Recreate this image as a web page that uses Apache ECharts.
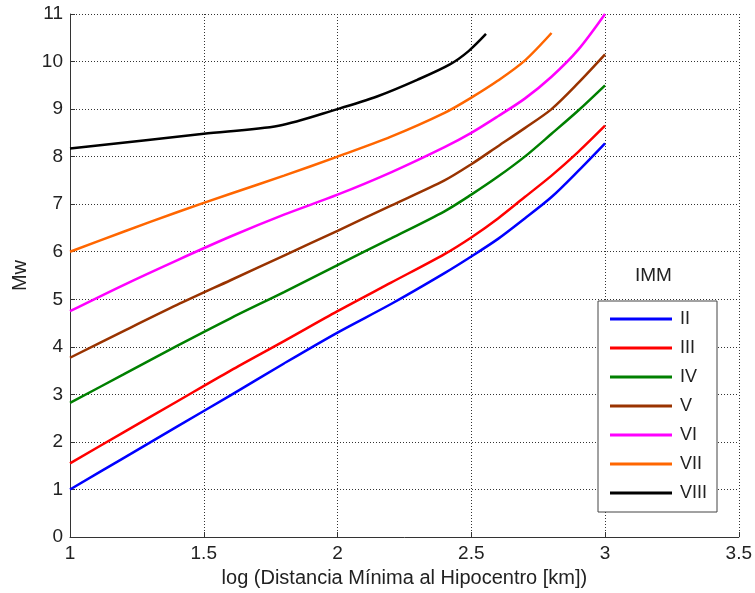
<!DOCTYPE html>
<html>
<head>
<meta charset="utf-8">
<script src="https://cdn.jsdelivr.net/npm/echarts@6/dist/echarts.min.js"></script>
<style>
  html, body { margin: 0; padding: 0; background: #fff; }
  #chart { width: 755px; height: 593px; }
</style>
</head>
<body>
<div id="chart"></div>
<script>
// log distance (shared for II..VII)
var logDist = [1, 1.2, 1.4, 1.6, 1.8, 2, 2.2, 2.4, 2.5, 2.6, 2.7, 2.8, 2.9, 3];
var mwII   = [1.0, 1.66, 2.32, 2.98, 3.65, 4.3, 4.9, 5.55, 5.9, 6.27, 6.7, 7.15, 7.7, 8.28];
var mwIII  = [1.55, 2.2, 2.85, 3.5, 4.12, 4.75, 5.35, 5.95, 6.3, 6.7, 7.15, 7.6, 8.1, 8.65];
var mwIV   = [2.82, 3.42, 4.02, 4.6, 5.15, 5.72, 6.28, 6.85, 7.2, 7.58, 8.0, 8.48, 8.97, 9.5];
var mwV    = [3.77, 4.33, 4.88, 5.4, 5.92, 6.44, 6.97, 7.5, 7.84, 8.22, 8.6, 9.0, 9.55, 10.15];
var mwVI   = [4.75, 5.3, 5.82, 6.32, 6.78, 7.2, 7.67, 8.2, 8.5, 8.85, 9.22, 9.68, 10.25, 11];
var mwVII  = [6.0, 6.42, 6.83, 7.22, 7.6, 8.0, 8.42, 8.92, 9.24, 9.6, 10.02, 10.6];
// VIII has its own x points
var logDistVIII = [1, 1.5, 1.78, 2, 2.15, 2.3, 2.42, 2.49, 2.555];
var mwVIII = [8.17, 8.48, 8.65, 9.0, 9.27, 9.62, 9.94, 10.22, 10.58];

var names  = ['II', 'III', 'IV', 'V', 'VI', 'VII', 'VIII'];
var colors = ['#0000ff', '#ff0000', '#008000', '#993300', '#ff00ff', '#ff6600', '#000000'];

function pairs(xs, ys) {
    return ys.map(function (y, i) { return [xs[i], y]; });
}

var seriesData = [
    pairs(logDist, mwII), pairs(logDist, mwIII), pairs(logDist, mwIV),
    pairs(logDist, mwV), pairs(logDist, mwVI), pairs(logDist, mwVII),
    pairs(logDistVIII, mwVIII)
];

var chart = echarts.init(document.getElementById('chart'));
var font = 'Liberation Sans, Arial, sans-serif';

chart.setOption({
    backgroundColor: '#fff',
    animation: false,
    textStyle: { fontFamily: font },
    grid: { left: 70, right: 14, top: 14, bottom: 56 },
    title: {
        text: 'IMM', left: 635, top: 266, padding: 0,
        textStyle: { fontSize: 19, fontWeight: 'normal', color: '#222', fontFamily: font }
    },
    legend: {
        data: names,
        orient: 'vertical',
        left: 598, top: 301,
        padding: [9, 10, 10, 12],
        itemWidth: 62, itemHeight: 3, itemGap: 11,
        icon: 'rect',
        borderColor: '#444', borderWidth: 1,
        backgroundColor: '#fff',
        textStyle: { fontSize: 18, color: '#222', padding: [0, 0, 0, 3], fontFamily: font }
    },
    xAxis: {
        type: 'value', min: 1, max: 3.5, interval: 0.5,
        name: 'log (Distancia Mínima al Hipocentro [km])',
        nameLocation: 'middle', nameGap: 31,
        nameTextStyle: { fontSize: 20, color: '#222' },
        axisLine: { lineStyle: { color: '#333' } },
        axisTick: { inside: true, length: 5, lineStyle: { color: '#333' } },
        axisLabel: { fontSize: 19, color: '#222', margin: 7 },
        splitLine: { lineStyle: { color: '#333', type: [1, 2] } }
    },
    yAxis: {
        type: 'value', min: 0, max: 11, interval: 1,
        name: 'Mw',
        nameLocation: 'middle', nameGap: 40,
        nameTextStyle: { fontSize: 20, color: '#222' },
        axisLine: { show: true, lineStyle: { color: '#333' } },
        axisTick: { show: true, inside: true, length: 5, lineStyle: { color: '#333' } },
        axisLabel: { fontSize: 19, color: '#222', margin: 7 },
        splitLine: { lineStyle: { color: '#333', type: [1, 2] } }
    },
    series: names.map(function (n, i) {
        return {
            name: n, type: 'line', data: seriesData[i],
            showSymbol: false, smooth: 0.3,
            color: colors[i],
            lineStyle: { width: 2.5, color: colors[i] }
        };
    })
});
</script>
</body>
</html>
